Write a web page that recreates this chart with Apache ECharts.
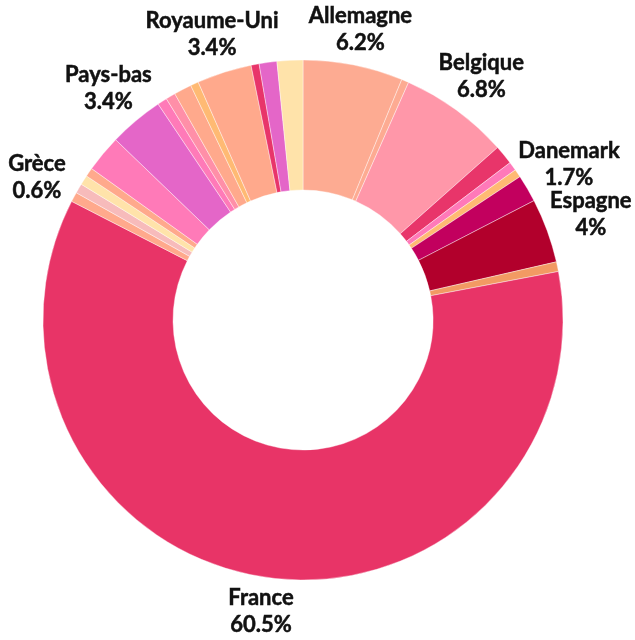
<!DOCTYPE html>
<html>
<head>
<meta charset="utf-8">
<script src="https://cdn.jsdelivr.net/npm/echarts@6/dist/echarts.min.js"></script>
<style>html,body{margin:0;padding:0;background:#fff}#c{width:635px;height:640px}</style>
</head>
<body>
<div id="c"></div>
<script>
const countries = ["Allemagne","Autriche","Belgique","Bulgarie","Chypre","Croatie","Danemark","Espagne","Estonie","France","Grèce","Hongrie","Irlande","Italie","Luxembourg","Pays-bas","Pologne","Portugal","République tchèque","Roumanie","Royaume-Uni","Slovaquie","Slovénie","Suède"];
const shares = [6.2,0.45,6.8,1.2,0.55,0.5,1.7,4.0,0.6,60.5,0.6,0.6,0.6,0.55,2.3,3.4,0.6,0.6,1.1,0.5,3.4,0.5,1.1,1.6];
const colors = ["#FDAB92","#FDAB92","#FF97A9","#E8356A","#FF79B9","#FFBA73","#C2005E","#B2002C","#F29A63","#E83467","#FFA98C","#F7BBBB","#FFE3AA","#FFA98C","#FF7AB8","#E466C8","#FF7AB8","#FF8FA8","#FFA98C","#FFBA73","#FFA98C","#E8356A","#E466C8","#FFE3AA"];
const labelled = ["Allemagne","Belgique","Danemark","Espagne","France","Grèce","Pays-bas","Royaume-Uni"];

const chart = echarts.init(document.getElementById('c'));
const center = [303, 320];
const outerR = 260;
const labelDist = 33;

chart.setOption({
  animation: false,
  series: [
    {
      type: 'pie',
      center: center,
      radius: [130, outerR],
      startAngle: 90,
      clockwise: true,
      avoidLabelOverlap: false,
      labelLine: {show: false},
      itemStyle: {borderColor: '#fff', borderWidth: 0.4},
      label: {
        position: 'inside',
        formatter: p => p.name + '\n' + p.value + '%',
        fontFamily: 'Lato',
        fontWeight: 'bold',
        fontSize: 22,
        lineHeight: 27,
        color: '#111',
        textBorderColor: '#111',
        textBorderWidth: 0.5,
        align: 'center',
        verticalAlign: 'middle'
      },
      labelLayout: function (p) {
        const r = p.labelRect;
        const cx = r.x + r.width / 2, cy = r.y + r.height / 2;
        const a = Math.atan2(cx - center[0], center[1] - cy);
        const s = Math.sin(a), c = Math.cos(a);
        const d = outerR + labelDist + 0.35 * (r.width / 2) * Math.abs(s);
        return {
          x: center[0] + d * s,
          y: center[1] - d * c,
          align: 'center',
          verticalAlign: 'middle',
          hideOverlap: false
        };
      },
      data: countries.map((n, i) => ({
        name: n, value: shares[i],
        itemStyle: {color: colors[i]},
        label: {show: labelled.indexOf(n) >= 0}
      }))
    }
  ]
});
</script>
</body>
</html>
